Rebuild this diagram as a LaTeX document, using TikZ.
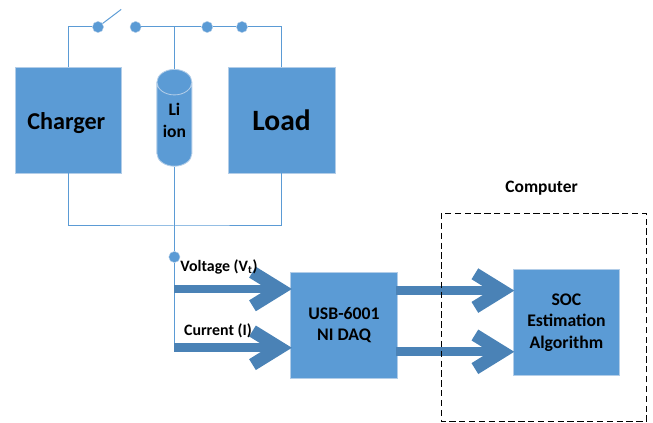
\documentclass[tikz,border=0pt]{standalone}
\usepackage{fontspec}
\setmainfont{Carlito}
\usepackage{xcolor}
\definecolor{blockblue}{RGB}{91,155,213}
\definecolor{edgeblue}{RGB}{178,205,232}
\definecolor{arrowblue}{RGB}{74,130,182}
\usetikzlibrary{arrows.meta, shapes.geometric}
\tikzset{
  block/.style={draw=edgeblue, fill=blockblue, line width=0.6pt, minimum width=2.67cm, minimum height=2.65cm, inner sep=0pt, align=center, font=\fontsize{12.6}{15.3}\selectfont\bfseries},
  wire/.style={blockblue, line width=0.7pt},
  contact/.style={circle, fill=blockblue, draw=edgeblue, line width=0.3pt, minimum size=0.28cm, inner sep=0pt},
  bigarrow/.style={arrowblue, line width=0.22cm, shorten >=-1.2pt, -{Straight Barb[length=0.68cm, width=0.84cm, line width=0.32cm]}},
  tag/.style={inner sep=0pt, font=\fontsize{11.3}{13}\selectfont\bfseries}
}
\begin{document}
\begin{tikzpicture}
  \useasboundingbox (0,0) rectangle (16.325,10.575);

  % Battery and its two neighbours
  \node[block, font=\fontsize{17.2}{20}\selectfont\bfseries, text height=16.2pt] (charger) at (1.71,7.575) {\mbox{Charger\kern3pt}};
  \node[block, font=\fontsize{21}{25}\selectfont\bfseries] (load) at (7.04,7.575) {Load};
  \node[cylinder, shape border rotate=90, aspect=1.1, draw=edgeblue, fill=blockblue, line width=0.6pt, minimum height=2.42cm, minimum width=0.875cm, inner sep=0pt, align=center, font=\fontsize{12.5}{15.6}\selectfont\bfseries] (liion) at (4.36,7.465) {Li\\ion\\[-9.9pt]\mbox{}};

  % Top rail
  \node[contact] (swleft) at (2.45,9.9) {};
  \node[contact] (swright) at (3.39,9.9) {};
  \node[contact] (railc) at (5.18,9.9) {};
  \node[contact] (raild) at (6.05,9.9) {};
  \coordinate (swtip) at (3.03,10.34);
  \draw[wire] (charger.north) |- (swleft);
  \draw[wire] (swleft) -- (swtip);
  \draw[wire] (swright) -- (railc) -- (raild);
  \draw[wire] (raild) -| (load.north);
  \draw[wire] (liion.top) -- (liion.top |- swright);

  % Bottom rail
  \coordinate (bus) at (4.36,4.925);
  \node[contact] (tap) at (4.36,4.15) {};
  \coordinate (vin) at (4.36,3.35);
  \coordinate (iin) at (4.36,1.88);
  \draw[wire] (charger.south) |- (bus) -| (load.south);
  \draw[wire] (liion.bottom) -- (tap);
  \draw[wire] (tap) -- (iin);

  % Data path
  \node[block] (daq) at (8.6,2.45) {USB-6001\\NI DAQ};
  \node[block] (soc) at (14.16,2.51) {SOC\\Estimation\\Algorithm};
  \coordinate (vout) at (9.9,3.31);
  \coordinate (iout) at (9.9,1.78);
  \draw[bigarrow] (vin) -- (vin -| daq.west);
  \draw[bigarrow] (iin) -- (iin -| daq.west);
  \draw[bigarrow] (vout) -- (vout -| soc.west);
  \draw[bigarrow] (iout) -- (iout -| soc.west);

  % Labels
  \node[tag] (vlabel) at (5.475,3.9) {Voltage (V\textsubscript{t})};
  \node[tag] (ilabel) at (5.45,2.3) {Current (I)};
  \node[tag, font=\fontsize{12.4}{14}\selectfont\bfseries] (pclabel) at (13.54,5.86) {Computer};

  % Computer border
  \draw[black, dash pattern=on 4.5pt off 2.5pt, line width=0.6pt] (11.04,5.25) rectangle (16.15,0.03);
\end{tikzpicture}
\end{document}
